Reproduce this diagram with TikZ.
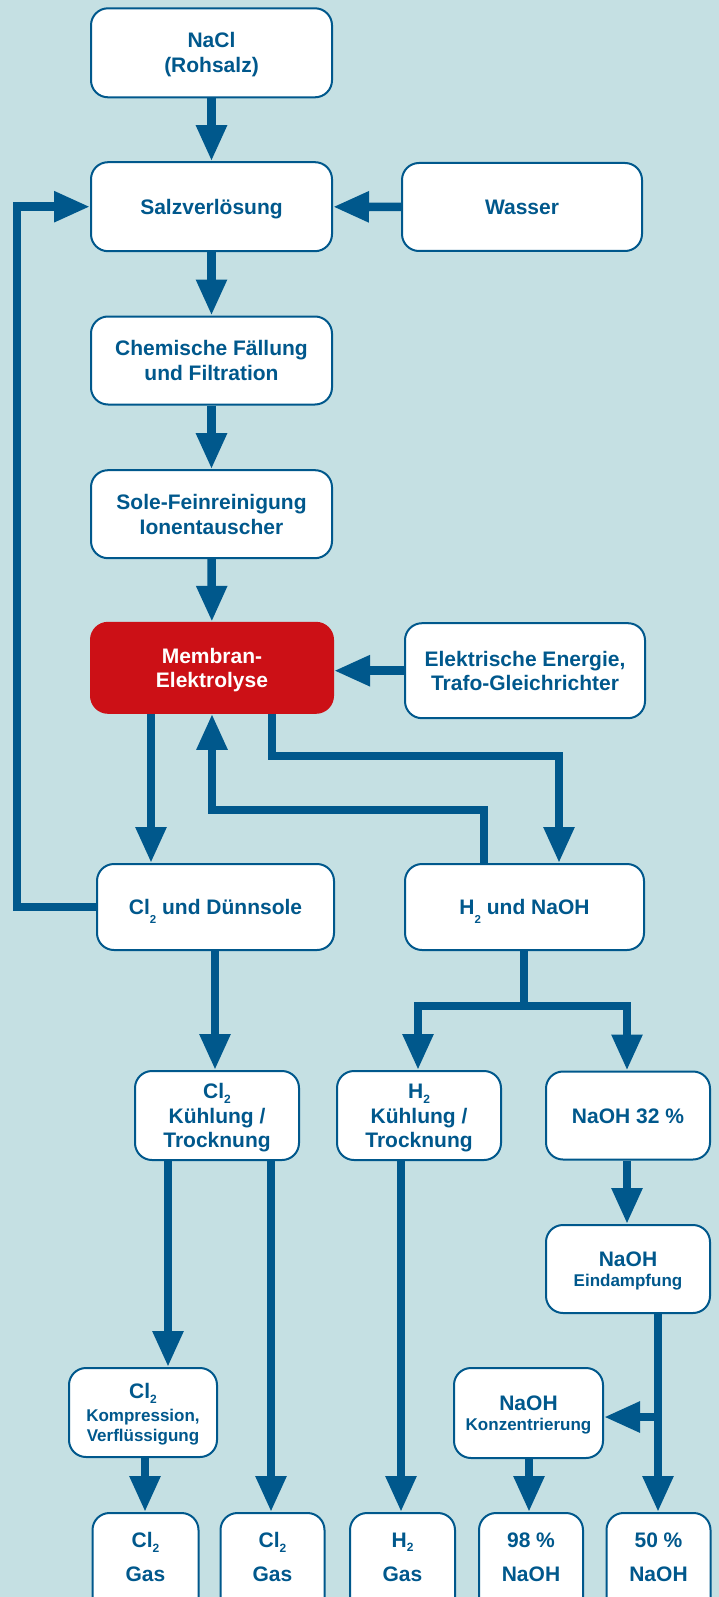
\documentclass[tikz,border=0pt]{standalone}
\usepackage{fontspec}
\setmainfont{Liberation Sans}
\usetikzlibrary{arrows.meta}
\definecolor{bg}{HTML}{C5E0E3}
\definecolor{bl}{HTML}{00588C}
\definecolor{rd}{HTML}{CC1016}
\newcommand{\smtxt}{\fontsize{17}{21}\selectfont}
\newcommand{\capstrut}{\rule{0pt}{15pt}}
\newcommand{\chemsub}[1]{\raisebox{-9pt}[0pt][0pt]{\fontsize{11.5}{11.5}\selectfont #1}}
\newcommand{\chemsubs}[1]{\raisebox{-4.5pt}[0pt][0pt]{\fontsize{12}{12}\selectfont #1}}
\newcommand{\boxfont}{\bfseries\fontsize{21}{25}\selectfont\lineskiplimit -100pt\relax}
\tikzset{
  box/.style={draw=bl, line width=2pt, fill=white, rounded corners=17pt, text=bl,
    font=\boxfont, align=center, inner sep=0pt},
  redbox/.style={box, draw=rd, fill=rd, text=white},
  txt/.style={text=bl, font=\bfseries\fontsize{21}{34}\selectfont, align=center, inner sep=0pt},
  flow/.style={draw=bl, line width=8.5pt, -{Triangle[length=36pt,width=29pt]}}
}
\begin{document}
\begin{tikzpicture}[x=1pt,y=-1pt]
\fill[bg] (0,0) rectangle (719,1597);
\useasboundingbox (0,0) rectangle (719,1597);
\begin{scope}
\clip (0,0) rectangle (719,1597);
% boxes
\node[box, minimum width=241pt, minimum height=89pt] (nacl) at (211.5,52.8) {\capstrut NaCl\\\smash{(Rohsalz)}};
\node[box, minimum width=241pt, minimum height=89pt] (salz) at (211.5,206.7) {\capstrut\smash{Salzverlösung}};
\node[box, minimum width=240pt, minimum height=88pt] (wasser) at (522,207) {\capstrut\smash{Wasser}};
\node[box, minimum width=241pt, minimum height=88pt] (chem) at (211.5,360.5) {\capstrut Chemische Fällung\\\smash{und Filtration}};
\node[box, minimum width=241pt, minimum height=88pt] (sole) at (211.5,514.2) {\capstrut Sole-Feinreinigung\\\smash{Ionentauscher}};
\node[redbox, minimum width=242pt, minimum height=90pt] (membran) at (212,667.8) {\capstrut Membran-\\[-1pt]\smash{Elektrolyse}};
\node[box, minimum width=240pt, minimum height=95pt] (elek) at (525,670.7) {\capstrut Elektrische Energie,\\[-1pt]\smash{Trafo-Gleichrichter}};
\node[box, minimum width=237pt, minimum height=86pt] (cl2d) at (215.5,907) {\capstrut\smash{Cl\chemsub{2} und Dünnsole}};
\node[box, minimum width=239pt, minimum height=86pt] (h2n) at (524.5,907) {\capstrut\smash{H\chemsub{2} und NaOH}};
\node[box, minimum width=164pt, minimum height=89pt] (cl2k) at (217,1115.5) {\capstrut Cl\chemsubs{2}\\[-0.5pt]Kühlung /\\[-0.5pt]\smash{Trocknung}};
\node[box, minimum width=164pt, minimum height=89pt] (h2k) at (419,1115.5) {\capstrut H\chemsubs{2}\\[-0.5pt]Kühlung /\\[-0.5pt]\smash{Trocknung}};
\node[box, minimum width=164pt, minimum height=88pt] (naoh32) at (628,1115.5) {\capstrut\smash{NaOH 32 \%}};
\node[box, minimum width=164pt, minimum height=88pt] (eind) at (628,1269) {\capstrut NaOH\\[-5pt]{\smtxt\smash{Eindampfung}}};
\node[box, minimum width=148pt, minimum height=89pt] (komp) at (143,1412.5) {\capstrut Cl\chemsubs{2}\\[-2pt]{\smtxt Kompression,}\\[-5pt]{\smtxt\smash{Verflüssigung}}};
\node[box, minimum width=149pt, minimum height=90pt] (konz) at (528.5,1413) {\capstrut NaOH\\[-5.5pt]{\smtxt\smash{Konzentrierung}}};
% bottom boxes (cut by the lower edge)
\node[box, anchor=north, minimum width=106pt, minimum height=120pt] (g1) at (145.5,1512) {};
\node[box, anchor=north, minimum width=104pt, minimum height=120pt] (g2) at (272.5,1512) {};
\node[box, anchor=north, minimum width=105pt, minimum height=120pt] (g3) at (402.5,1512) {};
\node[box, anchor=north, minimum width=104pt, minimum height=120pt] (g4) at (531,1512) {};
\node[box, anchor=north, minimum width=104pt, minimum height=120pt] (g5) at (658.5,1512) {};
\node[txt] (t1) at (145.5,1557) {Cl\chemsubs{2}\\Gas};
\node[txt] (t2) at (272.5,1557) {Cl\chemsubs{2}\\Gas};
\node[txt] (t3) at (402.5,1557) {H\chemsubs{2}\\Gas};
\node[txt] (t4) at (531,1557) {98 \%\\NaOH};
\node[txt] (t5) at (658.5,1557) {50 \%\\NaOH};
\end{scope}
% helper coordinates
\coordinate (lx) at (17,0);
\coordinate (xa) at (151,0);
\coordinate (xb) at (272,756);
\coordinate (xc) at (559,0);
\coordinate (rt) at (484,810);
\coordinate (xf) at (212,0);
\coordinate (xg) at (215,0);
\coordinate (sp) at (524,1006);
\coordinate (hl) at (418,0);
\coordinate (hr) at (627,0);
\coordinate (k1) at (168,0);
\coordinate (k2) at (271,0);
\coordinate (hx) at (401,0);
\coordinate (ex) at (658,0);
\coordinate (ky) at (0,1417);
\coordinate (kx) at (145,0);
\coordinate (zx) at (529,0);
% connectors
\draw[flow] (nacl) -- (salz);
\draw[flow] (wasser) -- (salz);
\draw[flow] (salz) -- (chem);
\draw[flow] (chem) -- (sole);
\draw[flow] (sole) -- (membran);
\draw[flow] (elek.west) -- (membran.east |- elek.west);
\draw[flow] (membran.south -| xa) -- (cl2d.north -| xa);
\draw[flow] (membran.south -| xb) -- (xb) -| (h2n.north -| xc);
\draw[flow] (h2n.north -| rt) -- (rt) -| (membran.south -| xf);
\draw[flow] (cl2d.west) -- (lx |- cl2d.west) |- (salz.west);
\draw[flow] (cl2d.south -| xg) -- (cl2k.north -| xg);
\draw[flow] (h2n.south -| sp) -- (sp) -| (h2k.north -| hl);
\draw[flow] (sp) -| (naoh32.north -| hr);
\draw[flow] (cl2k.south -| k1) -- (komp.north -| k1);
\draw[flow] (cl2k.south -| k2) -- (g2.north -| k2);
\draw[flow] (h2k.south -| hx) -- (g3.north -| hx);
\draw[flow] (naoh32.south -| hr) -- (eind.north -| hr);
\draw[flow] (eind.south -| ex) -- (g5.north -| ex);
\draw[flow] (ex |- ky) -- (konz.east |- ky);
\draw[flow] (komp.south -| kx) -- (g1.north -| kx);
\draw[flow] (konz.south -| zx) -- (g4.north -| zx);
\end{tikzpicture}
\end{document}
